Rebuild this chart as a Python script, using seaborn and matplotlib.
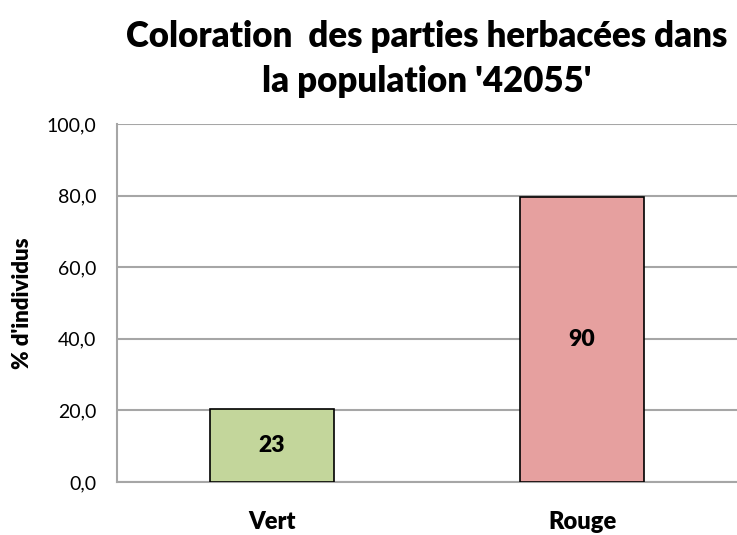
import matplotlib
matplotlib.use("Agg")
import matplotlib.pyplot as plt
import seaborn as sns
import pandas as pd

categories = ["Vert", "Rouge"]
counts = [23, 90]
colors = ["#c3d69b", "#e6a09f"]
yticks = [0, 20, 40, 60, 80, 100]

total = sum(counts)
percent = [100.0 * c / total for c in counts]
df = pd.DataFrame({"couleur": categories, "pct": percent, "n": counts})

sns.set_theme(style="white")
plt.rcParams["font.family"] = ["Lato", "DejaVu Sans"]

fig = plt.figure(figsize=(7.37, 5.35), dpi=100)
ax = fig.add_axes([117 / 737, 1 - 482 / 535, 1 - 117 / 737, (482 - 124) / 535])

sns.barplot(data=df, x="couleur", y="pct", hue="couleur", palette=colors,
            saturation=1, width=0.4, edgecolor="black", linewidth=1.2,
            legend=False, ax=ax, zorder=3)

for i, (p, n) in enumerate(zip(percent, counts)):
    ax.text(i, p / 2, str(n), ha="center", va="center",
            fontsize=16.5, fontweight="heavy", color="black", zorder=4)

ax.set_ylim(0, 100)
ax.set_xlim(-0.5, (737 - 117) / 313 - 0.5)
ax.set_yticks(yticks)
ax.set_yticklabels([f"{v:.1f}".replace(".", ",") for v in yticks],
                   fontsize=14, color="black")
ax.yaxis.grid(True, color="#a6a6a6", linewidth=1.5, zorder=0)
ax.set_axisbelow(True)

ax.set_xticks([-0.5, 0.5, 1.5], minor=True)
ax.set_xticks([0, 1])
ax.set_xticklabels(categories, fontsize=17, fontweight="heavy", color="black")
ax.tick_params(axis="x", which="major", length=0, pad=21)
ax.tick_params(axis="x", which="minor", length=6, width=1.5, color="#a6a6a6", direction="out")
ax.tick_params(axis="y", length=7, width=1.5, color="#a6a6a6", direction="out", pad=8)

for s in ["top", "right"]:
    ax.spines[s].set_visible(False)
for s in ["left", "bottom"]:
    ax.spines[s].set_color("#a6a6a6")
    ax.spines[s].set_linewidth(1.5)

ax.set_xlabel("")
ax.set_ylabel("% d'individus", fontsize=16, fontweight="heavy", color="black",
              labelpad=10)

ax.set_title("Coloration  des parties herbacées dans\nla population '42055'",
             fontsize=25, fontweight="heavy", color="black", pad=23,
             linespacing=1.45)

fig.savefig("out.png", dpi=100)
